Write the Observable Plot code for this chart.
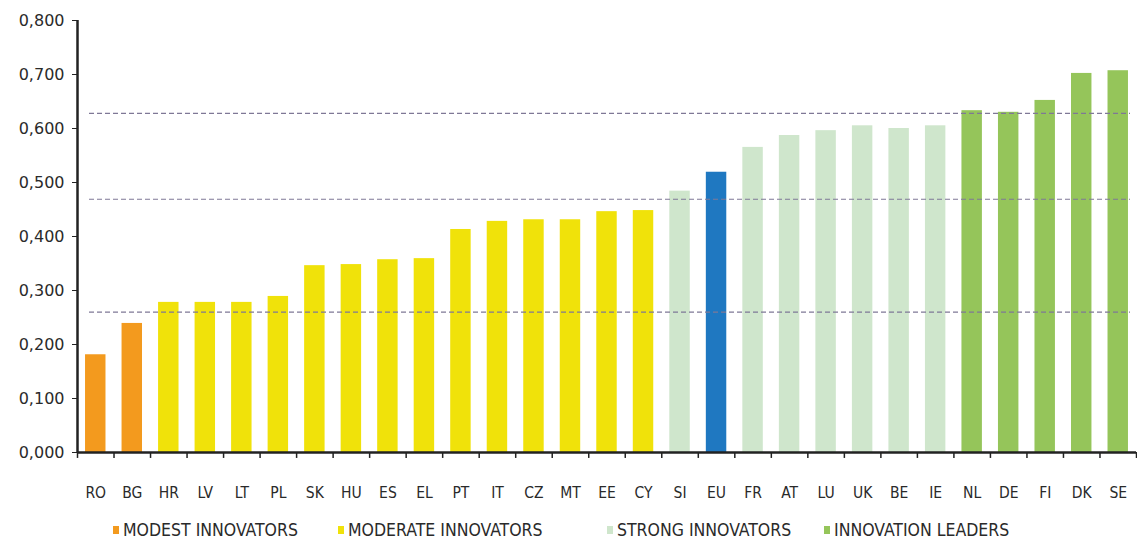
<!DOCTYPE html>
<html>
<head>
<meta charset="utf-8">
<script src="https://cdn.jsdelivr.net/npm/d3@7"></script>
<script src="https://cdn.jsdelivr.net/npm/@observablehq/plot@0.6"></script>
<style>
  body { margin: 0; background: #fff; }
  #chart svg { display: block; }
  #legend { position: relative; height: 50px; font-family: "DejaVu Sans Condensed", sans-serif; font-size: 17.5px; color: #2a2a2a; }
  .item { position: absolute; top: 15px; display: flex; align-items: center; white-space: nowrap; }
  .sw { width: 6px; height: 8px; margin-right: 4px; }
</style>
</head>
<body>
<div id="chart"></div>
<div id="legend"></div>
<script>
const countries = ["RO","BG","HR","LV","LT","PL","SK","HU","ES","EL","PT","IT","CZ","MT","EE","CY","SI","EU","FR","AT","LU","UK","BE","IE","NL","DE","FI","DK","SE"];
const scores = [0.181,0.239,0.278,0.278,0.278,0.289,0.346,0.348,0.357,0.359,0.413,0.428,0.431,0.431,0.446,0.448,0.484,0.519,0.565,0.587,0.596,0.605,0.600,0.605,0.633,0.630,0.652,0.702,0.707];
const groups = ["Modest","Modest","Moderate","Moderate","Moderate","Moderate","Moderate","Moderate","Moderate","Moderate","Moderate","Moderate","Moderate","Moderate","Moderate","Moderate","Strong","EU","Strong","Strong","Strong","Strong","Strong","Strong","Leader","Leader","Leader","Leader","Leader"];
const groupKeys = ["Modest","Moderate","Strong","Leader","EU"];
const groupColors = ["#f39a1e","#f0e20a","#cfe6cc","#95c55a","#1f78c1"];
const legendLabels = ["MODEST INNOVATORS","MODERATE INNOVATORS","STRONG INNOVATORS","INNOVATION LEADERS"];
const thresholds = [0.628, 0.469, 0.260];
const yTicks = [0,0.1,0.2,0.3,0.4,0.5,0.6,0.7,0.8];

const data = countries.map((c,i)=>({country:c, score:scores[i], group:groups[i]}));
const W = 1137, mL = 77, mR = 1;
const step = (W - mL - mR) / countries.length;

const chart = Plot.plot({
  width: W,
  height: 505,
  marginLeft: mL,
  marginRight: mR,
  marginTop: 20,
  marginBottom: 53,
  style: {fontFamily: "DejaVu Sans Condensed, sans-serif", fontSize: "15px", color: "#2a2a2a"},
  x: {domain: countries, paddingInner: 0.44, paddingOuter: 0.22, round: false, label: null},
  y: {domain: [0, 0.8], label: null},
  color: {domain: groupKeys, range: groupColors},
  marks: [
    Plot.barY(data, {x: "country", y: "score", fill: "group"}),
    Plot.ruleY(thresholds, {stroke: "#7f7896", strokeWidth: 1.2, strokeDasharray: "5,3", insetLeft: 12, insetRight: 6}),
    Plot.axisY({ticks: yTicks, tickFormat: d => d.toFixed(3).replace(".", ","), tickSize: 5, tickPadding: 8, stroke: "#222", fontSize: 16, fontFamily: "DejaVu Sans, sans-serif"}),
    Plot.axisX({tickSize: 0, tickPadding: 34, fontSize: 15.5}),
    Plot.ruleX(countries, {x: d => d, y1: 0, y2: -0.011, dx: -step/2, stroke: "#222", strokeWidth: 1.5}),
    Plot.ruleX(countries.slice(-1), {x: d => d, y1: 0, y2: -0.011, dx: step/2, stroke: "#222", strokeWidth: 1.5}),
    Plot.ruleY([0], {stroke: "#222", strokeWidth: 2.5}),
    Plot.ruleX([0], {x: () => countries[0], y1: 0, y2: 0.8, dx: -step/2, stroke: "#222", strokeWidth: 2.5})
  ]
});
document.getElementById("chart").append(chart);

const legendLefts = [113, 338, 607, 824];
const leg = document.getElementById("legend");
legendLabels.forEach((lab, i) => {
  const it = document.createElement("div");
  it.className = "item";
  it.style.left = legendLefts[i] + "px";
  const sw = document.createElement("span");
  sw.className = "sw";
  sw.style.background = groupColors[i];
  it.append(sw, document.createTextNode(lab));
  leg.append(it);
});
</script>
</body>
</html>
